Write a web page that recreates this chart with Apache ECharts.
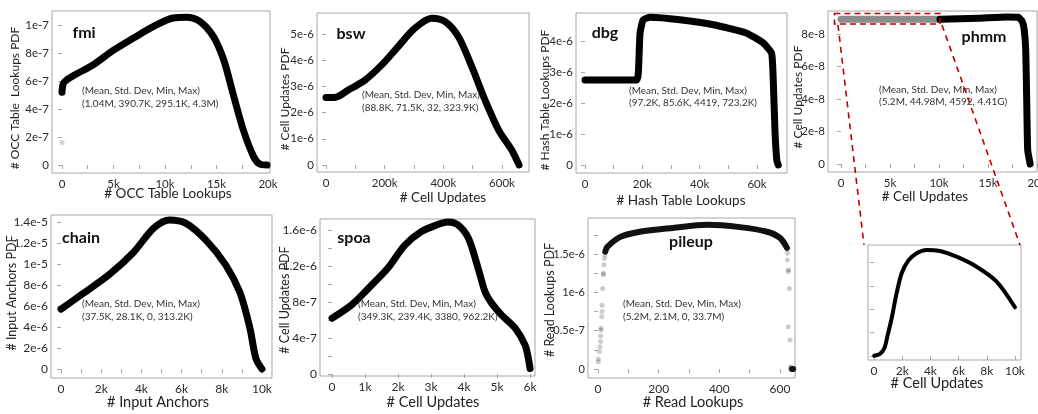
<!DOCTYPE html>
<html><head><meta charset="utf-8">
<script src="https://cdn.jsdelivr.net/npm/echarts@6/dist/echarts.min.js"></script>
<style>html,body{margin:0;padding:0;background:#fff}#c{width:1038px;height:414px}</style>
</head><body><div id="c"></div>
<script>
// ---------------- data (x in thousands unless noted, y in units shown by tick labels) ----------------
const fmiX = [0, 0.12, 0.45, 1.4, 3.0, 5.0, 6.9, 8.9, 10.8, 12.1, 13.4, 14.7, 15.7, 16.6, 17.6, 18.6, 19.2, 19.9];
const fmiY = [5.2, 5.8, 6.07, 6.5, 7.14, 8.2, 9.05, 9.9, 10.5, 10.55, 10.24, 9.17, 7.5, 5.1, 2.5, 0.6, 0.07, 0];
const fmiOutX = [0];
const fmiOutY = [1.6];

const bswX = [0, 30, 76, 133, 190, 246, 303, 360, 406, 451, 497, 542, 588, 633, 656, 658];
const bswY = [2.58, 2.58, 2.86, 3.24, 3.82, 4.52, 5.22, 5.6, 5.47, 4.9, 3.75, 2.48, 1.34, 0.57, 0.06, 0];

const dbgX = [0, 18, 18.6, 19.2, 20.3, 22.7, 33.1, 44.8, 56.4, 62.2, 65.1, 65.7, 66.3, 66.9, 67.4];
const dbgY = [2.74, 2.74, 2.96, 4.25, 4.68, 4.76, 4.68, 4.52, 4.25, 3.93, 3.6, 2.64, 1.02, 0.16, 0];

const phmmGrayX = [0, 10.1];
const phmmGrayY = [8.9, 8.9];
const phmmX = [10.1, 14, 17, 18.1, 18.5, 18.7, 18.85, 18.95, 19.05, 19.3];
const phmmY = [8.9, 8.97, 9.05, 9.03, 8.76, 8.25, 7.0, 3.94, 0.86, 0];

const chainX = [0, 1.1, 2.4, 3.6, 4.6, 5.4, 6.2, 7.2, 8.2, 8.9, 9.4, 9.7, 10.0];
const chainY = [5.7, 7.2, 9.0, 11.1, 13.4, 14.2, 13.9, 12.3, 9.9, 7.3, 3.9, 1.0, 0];

const spoaX = [0, 0.6, 1.1, 1.7, 2.2, 2.7, 3.2, 3.5, 3.8, 4.13, 4.43, 4.64, 4.84, 5.14, 5.55, 5.85, 5.95, 6.0];
const spoaY = [6.2, 7.7, 9.5, 11.8, 14.3, 15.8, 16.6, 16.9, 16.6, 15.1, 11.7, 9.1, 7.85, 6.55, 5.1, 3.2, 1.7, 0.6];

// pileup: x in read lookups, y in 1e-7
const pileX = [24, 30, 72, 138, 247, 359, 468, 557, 600, 623];
const pileY = [15.3, 15.9, 17.2, 17.9, 18.4, 18.8, 18.5, 17.9, 17.1, 15.8];
const pileGrayX = [1.1, 1.1, 4.4, 6.6, 8.8, 8.8, 9.9, 9.9, 12.1, 13.2, 13.2, 15.4, 17.6, 17.6, 19.8, 20.9, 23.1,
                   624.3, 624.3, 627.6, 627.6, 630.9, 627.6, 633.1, 635.3];
const pileGrayY = [0.96, 1.3, 2.3, 2.9, 3.6, 4.3, 5.1, 5.3, 6.8, 7.5, 8.3, 10.5, 12.3, 12.5, 13.6, 14.4, 14.9,
                   15.1, 14.2, 12.9, 12.7, 10.5, 5.5, 3.8, 0.3];
const pileEndX = [638.6, 641, 644];
const pileEndY = [0, 0, 0];

const insetX = [0.01, 0.42, 0.73, 0.94, 1.25, 1.6, 1.96, 2.43, 3.02, 3.73, 4.68, 5.86, 7.28, 8.7, 10.0];
const insetY = [0.01, 0.09, 0.33, 0.83, 1.62, 2.69, 3.55, 4.09, 4.41, 4.55, 4.5, 4.26, 3.83, 3.19, 2.09];

// tick values / labels
const fmiXTicks = [0, 2.5, 5, 7.5, 10, 12.5, 15, 17.5, 20];
const fmiXLabels = [0, 5, 10, 15, 20];
const fmiYTicks = [0, 2, 4, 6, 8, 10];
const fmiYLabels = ['0', '2e-7', '4e-7', '6e-7', '8e-7', '1e-7'];

const bswXTicks = [0, 100, 200, 300, 400, 500, 600];
const bswXLabels = [0, 200, 400, 600];
const bswYTicks = [0, 1, 2, 3, 4, 5];
const bswYLabels = ['0', '1e-6', '2e-6', '3e-6', '4e-6', '5e-6'];

const dbgXTicks = [0, 10, 20, 30, 40, 50, 60];
const dbgXLabels = [0, 20, 40, 60];
const dbgYTicks = [0, 1, 2, 3, 4];
const dbgYLabels = ['0', '1e-6', '2e-6', '3e-6', '4e-6'];

const phmmXTicks = [0, 2.5, 5, 7.5, 10, 12.5, 15, 17.5, 20];
const phmmXLabels = [0, 5, 10, 15, 20];
const phmmYTicks = [0, 2, 4, 6, 8];
const phmmYLabels = ['0', '2e-8', '4e-8', '6e-8', '8e-8'];

const chainXTicks = [0, 1, 2, 3, 4, 5, 6, 7, 8, 9, 10];
const chainXLabels = [0, 2, 4, 6, 8, 10];
const chainYTicks = [0, 2, 4, 6, 8, 10, 12, 14];
const chainYLabels = ['0', '2e-6', '4e-6', '6e-6', '8e-6', '1e-5', '1.2e-5', '1.4e-5'];

const spoaXTicks = [0, 1, 2, 3, 4, 5, 6];
const spoaXLabels = [0, 1, 2, 3, 4, 5, 6];
const spoaYTicks = [0, 2, 4, 6, 8, 10, 12, 14, 16];
const spoaYLabels = ['0', '4e-7', '8e-7', '1.2e-6', '1.6e-6'];
const spoaYLabelVals = [0, 4, 8, 12, 16];

const pileXTicks = [0, 100, 200, 300, 400, 500, 600];
const pileXLabels = [0, 200, 400, 600];
const pileYTicks = [0, 2.5, 5, 7.5, 10, 12.5, 15, 17.5];
const pileYLabels = ['0', '0.5e-7', '1e-6', '1.5e-6'];
const pileYLabelVals = [0, 5, 10, 15];

const insetXTicks = [0, 2, 4, 6, 8, 10];
const insetXLabels = [0, 2, 4, 6, 8, 10];
const insetYTicks = [0, 1, 2, 3, 4];

// ---------------- layout ----------------
const FONT = 'Lato, "Open Sans", sans-serif';
const TXT = '#2a2a2a';
const BOX = '#a6a6a6';
const grids = [
  {left: 52, top: 11, width: 218, height: 162},   // fmi
  {left: 317, top: 13, width: 212, height: 159},  // bsw
  {left: 576, top: 13, width: 211, height: 160},  // dbg
  {left: 828, top: 11, width: 209, height: 161},  // phmm
  {left: 51, top: 215, width: 221, height: 163},  // chain
  {left: 320, top: 219, width: 215, height: 157}, // spoa
  {left: 588, top: 218, width: 207, height: 160}, // pileup
  {left: 868, top: 245, width: 153, height: 115}  // inset
].map(g => Object.assign({show: true, borderColor: BOX, borderWidth: 1, backgroundColor: '#fff',
  containLabel: false, outerBoundsMode: 'none'}, g));

const kfmt = v => (v === 0 ? '0' : v + 'k');
function xAx(gi, min, max, ticks, labels, fmt, fs) {
  return {
    type: 'value', gridIndex: gi, min: min, max: max,
    axisLine: {show: false}, splitLine: {show: false},
    axisTick: {show: true, length: 4, lineStyle: {color: BOX}, customValues: ticks},
    axisLabel: {show: true, customValues: labels, formatter: fmt, color: TXT, fontSize: fs || 11.5, fontFamily: FONT, margin: 5,
      hideOverlap: false}
  };
}
function yAx(gi, min, max, ticks, labelVals, labelTexts, fs, show) {
  return {
    type: 'value', gridIndex: gi, min: min, max: max,
    axisLine: {show: false}, splitLine: {show: false},
    axisTick: {show: true, length: 4, lineStyle: {color: BOX}, customValues: ticks},
    axisLabel: {show: show !== false, customValues: labelVals, color: TXT, fontSize: fs || 11.5, fontFamily: FONT, margin: 3,
      formatter: v => { const i = labelVals.indexOf(v); return i >= 0 ? labelTexts[i] : ''; }}
  };
}
const pairs = (xs, ys) => xs.map((x, i) => [x, ys[i]]);
function curve(gi, xs, ys, w, color, smooth) {
  return {type: 'line', xAxisIndex: gi, yAxisIndex: gi, data: pairs(xs, ys), showSymbol: false, symbol: 'none',
    smooth: smooth, clip: false, lineStyle: {width: w, color: color, cap: 'round', join: 'round'}, silent: true, z: 3};
}
function dots(gi, xs, ys, size, color) {
  return {type: 'scatter', xAxisIndex: gi, yAxisIndex: gi, data: pairs(xs, ys), symbolSize: size,
    itemStyle: {color: color}, silent: true, z: 4, clip: false};
}

const xAxis = [
  xAx(0, -0.97, 20.19, fmiXTicks, fmiXLabels, kfmt),
  xAx(1, -30.7, 692, bswXTicks, bswXLabels, kfmt),
  xAx(2, -3.14, 70.46, dbgXTicks, dbgXLabels, kfmt),
  xAx(3, -1.33, 20.0, phmmXTicks, phmmXLabels, kfmt),
  xAx(4, -0.5, 10.5, chainXTicks, chainXLabels, kfmt, 12),
  xAx(5, -0.364, 6.15, spoaXTicks, spoaXLabels, kfmt, 12),
  xAx(6, -33, 649.5, pileXTicks, pileXLabels, v => String(v), 12),
  xAx(7, -0.43, 10.43, insetXTicks, insetXLabels, kfmt, 12)
];
const yAxis = [
  yAx(0, -0.571, 11.0, fmiYTicks, fmiYTicks, fmiYLabels),
  yAx(1, -0.267, 5.80, bswYTicks, bswYTicks, bswYLabels),
  yAx(2, -0.258, 4.90, dbgYTicks, dbgYTicks, dbgYLabels),
  yAx(3, -0.492, 9.415, phmmYTicks, phmmYTicks, phmmYLabels),
  yAx(4, -0.857, 14.67, chainYTicks, chainYTicks, chainYLabels, 12),
  yAx(5, -0.222, 17.22, spoaYTicks, spoaYLabelVals, spoaYLabels, 12),
  yAx(6, -1.17, 19.69, pileYTicks, pileYLabelVals, pileYLabels, 11),
  yAx(7, -0.17, 4.76, insetYTicks, insetYTicks, ['', '', '', '', ''], 11, false)
];

const series = [
  curve(0, fmiX, fmiY, 7, '#000', 0.3),
  dots(0, fmiOutX, fmiOutY, 5, '#c8c8c8'),
  curve(1, bswX, bswY, 7, '#000', 0.3),
  curve(2, dbgX, dbgY, 7, '#000', 0.15),
  curve(3, phmmGrayX, phmmGrayY, 7, '#8c8c8c', false),
  curve(3, phmmX, phmmY, 7, '#000', 0.15),
  curve(4, chainX, chainY, 7, '#000', 0.3),
  curve(5, spoaX, spoaY, 7, '#000', 0.3),
  curve(6, pileX, pileY, 6, '#111', 0.3),
  dots(6, pileGrayX, pileGrayY, 5, 'rgba(0,0,0,0.25)'),
  dots(6, pileEndX, pileEndY, 6, '#111'),
  curve(7, insetX, insetY, 4, '#000', 0.3)
];

// ---------------- text & annotations ----------------
function label(x, y, text, size, opts) {
  opts = opts || {};
  return {type: 'text', x: x, y: y, rotation: opts.rot || 0, z: 10, silent: true,
    style: {text: text, font: (opts.bold ? 'bold ' : '') + size + 'px ' + FONT, fill: opts.color || '#222',
      align: opts.align || 'center', verticalAlign: 'middle', textAlign: opts.align || 'center', textVerticalAlign: 'middle'}};
}
const V = Math.PI / 2;
const NOTE = {align: 'left', color: '#333'};
const graphic = [
  // titles
  label(84, 33, 'fmi', 16, {bold: true, color: '#111'}),
  label(351, 34, 'bsw', 16, {bold: true, color: '#111'}),
  label(605, 33, 'dbg', 16, {bold: true, color: '#111'}),
  label(984, 37, 'phmm', 16, {bold: true, color: '#111'}),
  label(81, 238, 'chain', 16, {bold: true, color: '#111'}),
  label(354, 238, 'spoa', 16, {bold: true, color: '#111'}),
  label(691, 242, 'pileup', 16, {bold: true, color: '#111'}),
  // x axis names
  label(168, 194, '# OCC Table Lookups', 13.5),
  label(443, 198, '# Cell Updates', 13.5),
  label(681, 201, '# Hash Table Lookups', 13.5),
  label(925, 197, '# Cell Updates', 13.5),
  label(158, 402, '# Input Anchors', 14.5),
  label(433, 402, '# Cell Updates', 14.5),
  label(693, 402, '# Read Lookups', 14.5),
  label(937, 383, '# Cell Updates', 14.5),
  // y axis names
  label(15, 98, '# OCC Table  Lookups PDF', 12, {rot: V}),
  label(285, 99, '# Cell Updates PDF', 12, {rot: V}),
  label(545, 100, '# Hash Table Lookups PDF', 12, {rot: V}),
  label(798, 97, '# Cell Updates PDF', 12, {rot: V}),
  label(12, 293, '# Input Anchors PDF', 12.5, {rot: V}),
  label(285, 300, '# Cell Updates PDF', 12.5, {rot: V}),
  label(550, 300, '# Read Lookups PDF', 12.5, {rot: V}),
  // stats annotations
  label(82, 91, '(Mean, Std. Dev, Min, Max)', 10, NOTE),
  label(82, 104, '(1.04M, 390.7K, 295.1K, 4.3M)', 10, NOTE),
  label(362, 95, '(Mean, Std. Dev, Min, Max)', 10, NOTE),
  label(362, 108, '(88.8K, 71.5K, 32, 323.9K)', 10, NOTE),
  label(629, 91, '(Mean, Std. Dev, Min, Max)', 10, NOTE),
  label(629, 103, '(97.2K, 85.6K, 4419, 723.2K)', 10, NOTE),
  label(879, 90, '(Mean, Std. Dev, Min, Max)', 10, NOTE),
  label(879, 102, '(5.2M, 44.98M, 4592, 4.41G)', 10, NOTE),
  label(82, 304, '(Mean, Std. Dev, Min, Max)', 10, NOTE),
  label(82, 317, '(37.5K, 28.1K, 0, 313.2K)', 10, NOTE),
  label(358, 304, '(Mean, Std. Dev, Min, Max)', 10, NOTE),
  label(358, 317, '(349.3K, 239.4K, 3380, 962.2K)', 10, NOTE),
  label(623, 304, '(Mean, Std. Dev, Min, Max)', 10, NOTE),
  label(623, 317, '(5.2M, 2.1M, 0, 33.7M)', 10, NOTE),
  // zoom callout (red dashed)
  {type: 'rect', z: 12, silent: true, shape: {x: 834.5, y: 13.5, width: 105.5, height: 10.5},
    style: {fill: 'none', stroke: '#c00000', lineWidth: 1.6, lineDash: [6, 4]}},
  {type: 'line', z: 12, silent: true, shape: {x1: 838, y1: 25, x2: 864, y2: 245},
    style: {stroke: '#c00000', lineWidth: 1.6, lineDash: [6, 5]}},
  {type: 'line', z: 12, silent: true, shape: {x1: 942, y1: 25, x2: 1020, y2: 245},
    style: {stroke: '#c00000', lineWidth: 1.6, lineDash: [6, 5]}}
];

const chart = echarts.init(document.getElementById('c'), null, {renderer: 'canvas'});
chart.setOption({
  animation: false,
  backgroundColor: '#fff',
  textStyle: {fontFamily: FONT},
  grid: grids, xAxis: xAxis, yAxis: yAxis, series: series, graphic: graphic
});
</script></body></html>
